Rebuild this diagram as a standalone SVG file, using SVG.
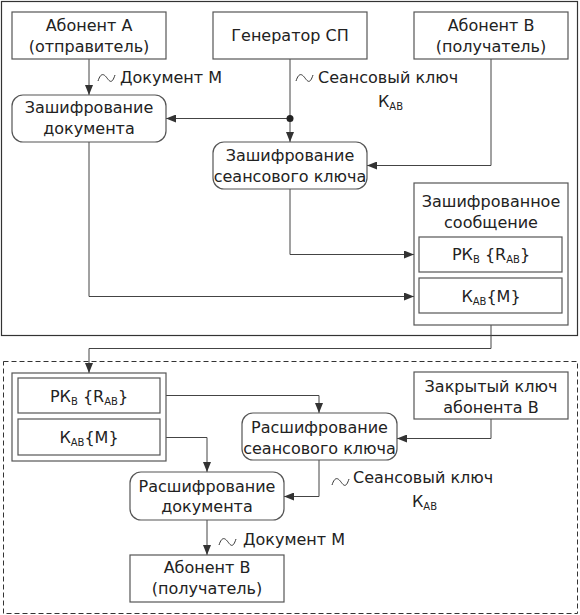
<svg xmlns="http://www.w3.org/2000/svg" width="580" height="615" viewBox="0 0 580 615">
<style>
text{font-family:"DejaVu Sans","Liberation Sans",sans-serif;font-size:16px;fill:#222}
.m{text-anchor:middle}
.box{fill:#fff;stroke:#555;stroke-width:1.2}
.c{fill:none;stroke:#444;stroke-width:1}
.t{fill:none;stroke:#333;stroke-width:1}
.s{font-size:10px}
</style>
<defs>
<marker id="a" viewBox="0 0 10 8" refX="10" refY="4" markerWidth="10" markerHeight="8" markerUnits="userSpaceOnUse" orient="auto">
<path d="M0,0 L10,4 L0,8 z" fill="#333"/>
</marker>
</defs>
<rect x="1.5" y="1.5" width="576" height="334" fill="#fff" stroke="#333" stroke-width="1.2"/>
<rect x="3.5" y="361.5" width="574" height="252" fill="none" stroke="#333" stroke-width="1" stroke-dasharray="5 3"/>

<g id="connectors">
<path class="c" d="M89,59 V95" marker-end="url(#a)"/>
<path class="c" d="M290,59 V142" marker-end="url(#a)"/>
<path class="c" d="M290,118.5 H166" marker-end="url(#a)"/>
<circle cx="290" cy="118.5" r="3.5" fill="#222"/>
<path class="c" d="M491,59 V165.5 H367" marker-end="url(#a)"/>
<path class="c" d="M290,189 V254.5 H414" marker-end="url(#a)"/>
<path class="c" d="M89,142 V296.5 H414" marker-end="url(#a)"/>
<path class="c" d="M491,325 V348.5 H89 V373" marker-end="url(#a)"/>
<path class="c" d="M166,395.5 H319 V413" marker-end="url(#a)"/>
<path class="c" d="M166,437.5 H207 V472" marker-end="url(#a)"/>
<path class="c" d="M491,419 V438.5 H397" marker-end="url(#a)"/>
<path class="c" d="M319,460 V496.5 H284" marker-end="url(#a)"/>
<path class="c" d="M207,520 V555" marker-end="url(#a)"/>
</g>

<g id="labels">
<path class="t" d="M98,81 C101,72 104,74 107,78 S112,84 115,75"/>
<text x="120" y="83">Документ М</text>
<path class="t" d="M296,81 C299,72 302,74 305,78 S310,84 313,75"/>
<text x="318" y="83">Сеансовый ключ</text>
<text x="378" y="107">К<tspan class="s" dy="3">АВ</tspan></text>
<path class="t" d="M332,485 C335,476 338,478 341,482 S346,488 349,479"/>
<text x="353" y="483">Сеансовый ключ</text>
<text x="412" y="507">К<tspan class="s" dy="3">АВ</tspan></text>
<path class="t" d="M219,545 C222,536 225,538 228,542 S233,548 236,539"/>
<text x="243" y="545">Документ М</text>
</g>

<g id="abonentA">
<rect class="box" x="12" y="12" width="154" height="47"/>
<text class="m" x="89" y="31">Абонент А</text>
<text class="m" x="89" y="52">(отправитель)</text>
</g>
<g id="generator">
<rect class="box" x="213" y="12" width="154" height="47"/>
<text class="m" x="290" y="41">Генератор СП</text>
</g>
<g id="abonentB">
<rect class="box" x="414" y="12" width="154" height="47"/>
<text class="m" x="491" y="31">Абонент В</text>
<text class="m" x="491" y="52">(получатель)</text>
</g>
<g id="encDoc">
<rect class="box" x="12" y="95" width="154" height="47" rx="11"/>
<text class="m" x="89" y="113">Зашифрование</text>
<text class="m" x="89" y="134">документа</text>
</g>
<g id="encKey">
<rect class="box" x="213" y="142" width="154" height="47" rx="11"/>
<text class="m" x="290" y="161">Зашифрование</text>
<text class="m" x="290" y="182">сеансового ключа</text>
</g>
<g id="encMsg">
<rect class="box" x="414" y="183" width="154" height="142"/>
<text class="m" x="491" y="207">Зашифрованное</text>
<text class="m" x="491" y="228">сообщение</text>
<rect class="box" x="419" y="237" width="143" height="35"/>
<text class="m" x="491" y="260">РК<tspan class="s" dy="3">В</tspan><tspan dy="-3"> {R</tspan><tspan class="s" dy="3">АВ</tspan><tspan dy="-3">}</tspan></text>
<rect class="box" x="419" y="278" width="143" height="35"/>
<text class="m" x="491" y="302">К<tspan class="s" dy="3">АВ</tspan><tspan dy="-3">{М}</tspan></text>
</g>

<g id="recvMsg">
<rect class="box" x="12" y="373" width="154" height="88"/>
<rect class="box" x="18" y="378" width="142" height="35"/>
<text class="m" x="89" y="402">РК<tspan class="s" dy="3">В</tspan><tspan dy="-3"> {R</tspan><tspan class="s" dy="3">АВ</tspan><tspan dy="-3">}</tspan></text>
<rect class="box" x="18" y="419" width="142" height="36"/>
<text class="m" x="89" y="443">К<tspan class="s" dy="3">АВ</tspan><tspan dy="-3">{М}</tspan></text>
</g>
<g id="privKey">
<rect class="box" x="414" y="372" width="154" height="47"/>
<text class="m" x="491" y="392">Закрытый ключ</text>
<text class="m" x="491" y="413">абонента В</text>
</g>
<g id="decKey">
<rect class="box" x="242" y="413" width="155" height="47" rx="11"/>
<text class="m" x="319.5" y="433">Расшифрование</text>
<text class="m" x="319.5" y="454">сеансового ключа</text>
</g>
<g id="decDoc">
<rect class="box" x="130" y="472" width="154" height="48" rx="11"/>
<text class="m" x="207" y="492">Расшифрование</text>
<text class="m" x="207" y="512">документа</text>
</g>
<g id="abonentB2">
<rect class="box" x="130" y="555" width="154" height="47"/>
<text class="m" x="207" y="573">Абонент В</text>
<text class="m" x="207" y="594">(получатель)</text>
</g>
</svg>
